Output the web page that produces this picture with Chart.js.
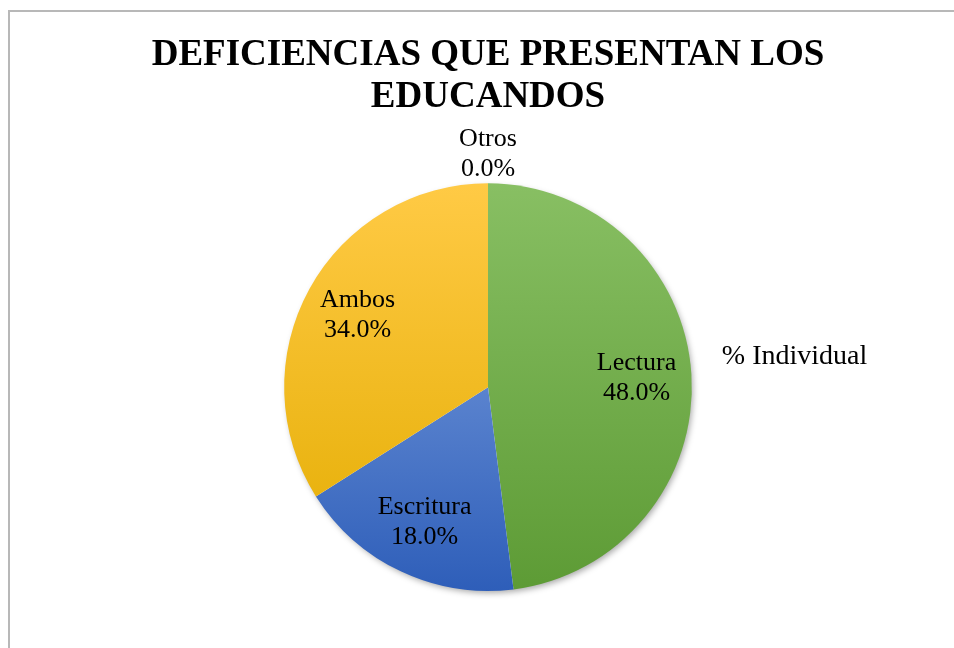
<!DOCTYPE html>
<html lang="es">
<head>
    <meta charset="UTF-8">
    <title>Deficiencias que presentan los educandos</title>
    <script src="https://cdn.jsdelivr.net/npm/chart.js@4.4.1/dist/chart.umd.min.js"></script>
    <style>
        body { margin: 0; background: #fff; }
        #frame {
            position: absolute;
            left: 8px;
            top: 10px;
            width: 944px;
            height: 636px;
            border-left: 2px solid #b8b8b8;
            border-top: 2px solid #b8b8b8;
        }
        canvas { display: block; }
    </style>
</head>
<body>
<div id="frame">
    <canvas id="pieChart" width="944" height="636"></canvas>
</div>

<script>
    // data
    const categories = ['Lectura', 'Escritura', 'Ambos', 'Otros'];
    const percents = [48.0, 18.0, 34.0, 0.0];
    const seriesName = '% Individual';
    const titleLines = ['DEFICIENCIAS QUE PRESENTAN LOS', 'EDUCANDOS'];

    // slice colours: lighter at top of the pie, darker at bottom
    const topColors = ['#88bf63', '#86a8e4', '#ffca45', '#a5a5a5'];
    const bottomColors = ['#5d9b35', '#2e5eb9', '#e3ac00', '#7f7f7f'];

    const serif = "'Liberation Serif', 'Times New Roman', serif";

    function sliceGradient(ctx) {
        const chart = ctx.chart;
        const area = chart.chartArea;
        const i = ctx.dataIndex;
        if (!area) return topColors[i];
        const g = chart.ctx.createLinearGradient(0, area.top, 0, area.bottom);
        g.addColorStop(0, topColors[i]);
        g.addColorStop(1, bottomColors[i]);
        return g;
    }

    // soft shadow under the whole pie
    const pieShadow = {
        id: 'pieShadow',
        beforeDatasetsDraw(chart) {
            const arc = chart.getDatasetMeta(0).data[0];
            if (!arc) return;
            const c = chart.ctx;
            c.save();
            c.shadowColor = 'rgba(0,0,0,0.35)';
            c.shadowBlur = 6;
            c.shadowOffsetX = 2;
            c.shadowOffsetY = 3;
            c.fillStyle = '#ffffff';
            c.beginPath();
            c.arc(arc.x, arc.y, arc.outerRadius - 1, 0, Math.PI * 2);
            c.fill();
            c.restore();
        }
    };

    // category + percent labels, inside the slices (outside when empty)
    const sliceLabels = {
        id: 'sliceLabels',
        afterDatasetsDraw(chart) {
            const c = chart.ctx;
            const meta = chart.getDatasetMeta(0);
            c.save();
            c.font = '26px ' + serif;
            c.fillStyle = '#000';
            c.textAlign = 'center';
            c.textBaseline = 'middle';
            meta.data.forEach((arc, i) => {
                const mid = (arc.startAngle + arc.endAngle) / 2;
                const r = percents[i] > 0 ? arc.outerRadius * 0.73 : arc.outerRadius + 29;
                const x = arc.x + Math.cos(mid) * r;
                const y = arc.y + Math.sin(mid) * r;
                c.fillText(categories[i], x, y - 15);
                c.fillText(percents[i].toFixed(1) + '%', x, y + 15);
            });
            c.restore();
        }
    };

    // legend: only the series name, no swatch
    const seriesLegend = {
        id: 'seriesLegend',
        afterDraw(chart) {
            const area = chart.chartArea;
            const arc = chart.getDatasetMeta(0).data[0];
            const c = chart.ctx;
            c.save();
            c.font = '28px ' + serif;
            c.fillStyle = '#000';
            c.textAlign = 'left';
            c.textBaseline = 'middle';
            c.fillText(seriesName, arc.x + arc.outerRadius + 30, (area.top + area.bottom) / 2 - 31);
            c.restore();
        }
    };

    new Chart(document.getElementById('pieChart'), {
        type: 'pie',
        data: {
            labels: categories,
            datasets: [{
                label: seriesName,
                data: percents,
                backgroundColor: sliceGradient,
                borderWidth: 0
            }]
        },
        options: {
            responsive: false,
            animation: false,
            layout: { padding: { left: 12, right: 0, top: 0, bottom: 57 } },
            plugins: {
                legend: { display: false },
                tooltip: { enabled: false },
                title: {
                    display: true,
                    text: titleLines,
                    color: '#000',
                    font: { family: serif, size: 37, weight: 'bold', lineHeight: 1.14 },
                    padding: { top: 22, bottom: 65 }
                }
            }
        },
        plugins: [pieShadow, sliceLabels, seriesLegend]
    });
</script>
</body>
</html>
